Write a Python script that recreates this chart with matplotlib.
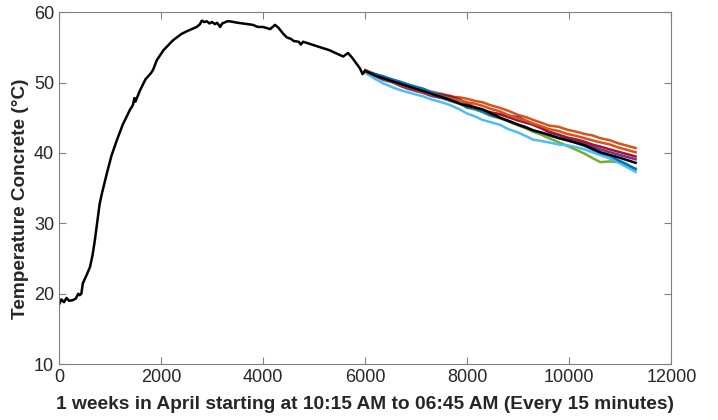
import matplotlib.pyplot as plt

# Measured temperature (black), time index in 15 min steps
meas_x = [0, 50, 100, 150, 200, 275, 330, 380, 410, 440, 470, 540, 610, 660, 705,
          765, 800, 845, 940, 1030, 1135, 1250, 1390, 1450, 1480, 1500, 1590, 1700,
          1800, 1845, 1920, 2050, 2235, 2400, 2510, 2700, 2765, 2800, 2850, 2900,
          2950, 3000, 3060, 3100, 3160, 3200, 3300, 3350, 3500, 3800, 3900, 4000,
          4140, 4235, 4300, 4400, 4470, 4550, 4600, 4700, 4740, 4785, 5000, 5300,
          5570, 5665, 5750, 5900, 5950, 6000, 6200, 6400, 6700, 7000, 7300, 7600,
          7900, 8300, 8650, 8900, 9300, 9600, 9800, 9960, 10300, 10610, 11000, 11300]
meas_y = [18.4, 19.2, 18.8, 19.4, 19.0, 19.1, 19.3, 20.0, 19.8, 20.0, 21.5, 22.6, 23.8,
          25.5, 27.6, 30.9, 32.8, 34.3, 37.1, 39.6, 41.8, 44.0, 46.1, 46.8, 47.8, 47.3,
          48.9, 50.5, 51.3, 51.8, 53.2, 54.6, 56.0, 56.9, 57.3, 57.9, 58.3, 58.8, 58.6,
          58.7, 58.4, 58.6, 58.3, 58.5, 57.9, 58.4, 58.7, 58.7, 58.5, 58.2, 57.9, 57.9,
          57.6, 58.2, 57.8, 56.9, 56.4, 56.2, 55.9, 55.8, 55.4, 55.8, 55.3, 54.6, 53.7,
          54.2, 53.5, 52.0, 51.2, 51.7, 51.0, 50.5, 49.8, 49.1, 48.4, 47.7, 46.9, 46.2,
          45.0, 44.3, 43.2, 42.6, 42.1, 41.8, 41.1, 40.1, 39.3, 38.6]

# Predicted runs
pred_x = [6000, 6200, 6350, 6550, 6700, 6850, 7000, 7150, 7300, 7500, 7670, 7850,
          8000, 8150, 8300, 8450, 8645, 8800, 9000, 9150, 9290, 9450, 9600, 9800,
          9960, 10150, 10300, 10450, 10610, 10800, 10950, 11100, 11300]
pred_blue = [51.6, 51.2, 50.9, 50.4, 50.1, 49.7, 49.4, 49.1, 48.6, 48.1, 47.5, 47.1,
             46.5, 46.3, 45.9, 45.4, 45.0, 44.6, 44.0, 43.7, 43.2, 42.9, 42.5, 42.1,
             41.8, 41.4, 41.0, 40.5, 40.0, 39.6, 39.0, 38.5, 37.7]
pred_orange1 = [51.8, 51.2, 50.8, 50.4, 50.0, 49.7, 49.3, 49.0, 48.7, 48.4, 48.0, 47.9,
                47.7, 47.4, 47.2, 46.8, 46.4, 46.0, 45.4, 45.1, 44.7, 44.3, 43.9, 43.7,
                43.3, 43.0, 42.7, 42.5, 42.1, 41.8, 41.4, 41.1, 40.7]
pred_orange2 = [51.7, 51.1, 50.6, 50.1, 49.7, 49.4, 49.0, 48.6, 48.3, 48.1, 47.7, 47.5,
                47.2, 47.0, 46.7, 46.3, 45.9, 45.4, 44.9, 44.6, 44.2, 43.8, 43.4, 43.1,
                42.7, 42.4, 42.1, 41.8, 41.5, 41.2, 40.8, 40.5, 40.1]
pred_purple = [51.5, 50.9, 50.4, 50.0, 49.5, 49.1, 48.8, 48.5, 48.1, 47.8, 47.4, 47.0,
               46.6, 46.2, 45.9, 45.7, 45.5, 45.3, 45.1, 44.6, 44.1, 43.6, 43.0, 42.5,
               42.0, 41.6, 41.3, 40.9, 40.5, 40.1, 39.8, 39.5, 39.1]
pred_green = [51.5, 51.0, 50.7, 50.3, 50.0, 49.6, 49.3, 49.0, 48.5, 48.0, 47.4, 47.0,
              46.4, 46.2, 45.8, 45.3, 44.9, 44.5, 43.9, 43.5, 43.0, 42.6, 42.1, 41.5,
              41.0, 40.4, 39.9, 39.3, 38.7, 38.8, 38.7, 38.3, 37.8]
pred_lightblue = [51.4, 50.5, 49.9, 49.3, 48.9, 48.6, 48.3, 48.0, 47.6, 47.2, 46.8, 46.2,
                  45.6, 45.2, 44.7, 44.4, 44.0, 43.4, 42.9, 42.4, 41.9, 41.7, 41.5, 41.2,
                  41.1, 40.8, 40.5, 40.1, 39.7, 39.2, 38.7, 38.1, 37.3]
pred_darkred = [51.6, 51.0, 50.6, 50.1, 49.7, 49.3, 48.9, 48.6, 48.4, 48.3, 48.1, 47.6,
                47.0, 46.5, 46.1, 45.8, 45.5, 45.1, 44.6, 44.3, 44.0, 43.5, 43.0, 42.6,
                42.2, 41.9, 41.6, 41.2, 40.9, 40.5, 40.2, 39.9, 39.5]

series = [
    (pred_orange1, '#D95319'),
    (pred_purple, '#7E2F8E'),
    (pred_green, '#77AC30'),
    (pred_lightblue, '#4DBEEE'),
    (pred_darkred, '#A2142F'),
    (pred_orange2, '#D95319'),
    (pred_blue, '#0072BD'),
]

plt.rcParams['font.family'] = ['Liberation Sans', 'DejaVu Sans']

fig = plt.figure(figsize=(7.18, 4.2), dpi=100)
ax = fig.add_axes([0.082, 0.133, 0.853, 0.838])

for vals, col in series:
    ax.plot(pred_x, vals, color=col, lw=1.8)
ax.plot(meas_x, meas_y, color='black', lw=1.8)

ax.set_xlim(0, 12000)
ax.set_ylim(10, 60)
ax.set_xticks(range(0, 12001, 2000))
ax.set_yticks(range(10, 61, 10))

for s in ax.spines.values():
    s.set_color('#808080')
    s.set_linewidth(0.8)
ax.tick_params(direction='in', top=True, right=True, length=5, width=0.8,
               color='#808080', labelcolor='#262626', labelsize=13)

ax.set_xlabel('1 weeks in April starting at 10:15 AM to 06:45 AM (Every 15 minutes)',
              fontsize=13.8, fontweight='bold', color='#262626', labelpad=7)
ax.set_ylabel('Temperature Concrete (\u00b0C)', fontsize=13.7, fontweight='bold',
              color='#262626')
ax.yaxis.set_label_coords(-0.049, 0.47)

fig.savefig('out.png', dpi=100)
